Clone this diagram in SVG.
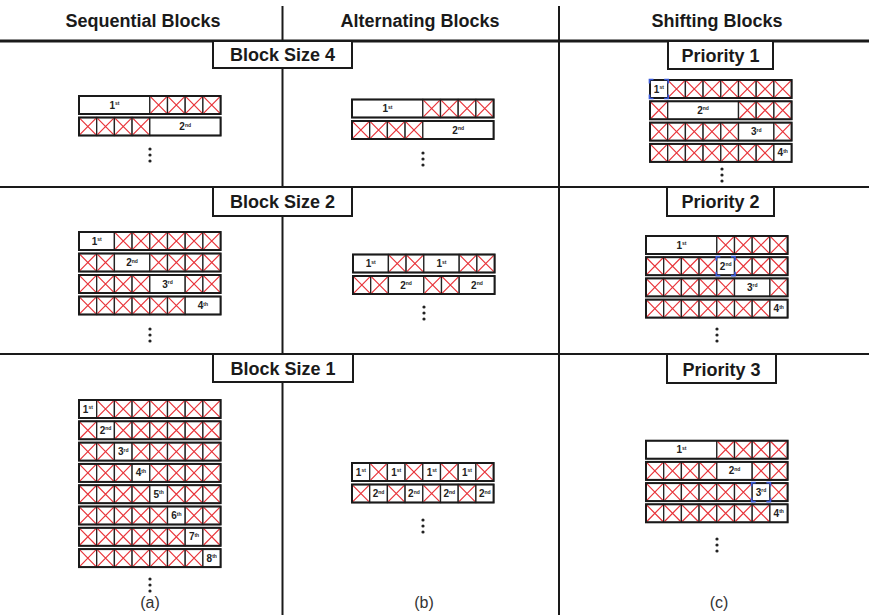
<svg xmlns="http://www.w3.org/2000/svg" xmlns:xlink="http://www.w3.org/1999/xlink" width="869" height="615" viewBox="0 0 869 615">
<style>
.c{fill:#fff;stroke:#222;stroke-width:1.3}
.r{fill:none;stroke:#e8343a;stroke-width:1.2}
.o{fill:none;stroke:#1a1a1a;stroke-width:2}
.b{fill:none;stroke:#3a5ad8;stroke-width:1.7}
.t{font-family:"Liberation Sans",Arial,sans-serif;font-weight:bold;font-size:10px;text-anchor:middle;fill:#222}
.s{font-size:5px}
.h{font-family:"Liberation Sans",Arial,sans-serif;font-weight:bold;font-size:18px;text-anchor:middle;fill:#1a1a1a}
.cap{font-family:"Liberation Sans",Arial,sans-serif;font-size:16px;text-anchor:middle;fill:#333}
.ln{stroke:#1a1a1a;stroke-width:2;fill:none}
.box{fill:#fff;stroke:#1a1a1a;stroke-width:2}
.d{fill:#222}
</style>
<defs>
<g id="x"><rect class="c" width="17.7" height="18"/><path class="r" d="M0.8,0.8L16.9,17.2M16.9,0.8L0.8,17.2"/></g>
<rect id="l1" class="c" width="17.7" height="18"/>
<rect id="l2" class="c" width="35.4" height="18"/>
<rect id="l4" class="c" width="70.8" height="18"/>
<rect id="row" class="o" width="141.6" height="18"/>
<g id="dots"><circle class="d" cx="0" cy="0" r="1.6"/><circle class="d" cx="0" cy="6" r="1.6"/><circle class="d" cx="0" cy="12" r="1.6"/></g>
<path id="br" class="b" d="M-0.5,3.5V-0.5H3.5M14.2,-0.5H18.2V3.5M18.2,14.5V18.5H14.2M3.5,18.5H-0.5V14.5"/>
</defs>
<rect width="869" height="615" fill="#fff"/>

<g id="grid">
<line class="ln" x1="0" y1="41" x2="869" y2="41" style="stroke-width:3"/>
<line class="ln" x1="0" y1="187" x2="869" y2="187"/>
<line class="ln" x1="0" y1="354" x2="869" y2="354"/>
<line class="ln" x1="282.5" y1="6" x2="282.5" y2="615"/>
<line class="ln" x1="559" y1="6" x2="559" y2="615"/>
</g>

<g id="headers">
<text class="h" x="143" y="27">Sequential Blocks</text>
<text class="h" x="420" y="27">Alternating Blocks</text>
<text class="h" x="717" y="27">Shifting Blocks</text>
</g>

<g id="title-bs4"><rect class="box" x="213" y="41" width="139" height="27"/><text class="h" x="282.5" y="61">Block Size 4</text></g>
<g id="title-bs2"><rect class="box" x="213" y="187" width="139" height="29"/><text class="h" x="282.5" y="208">Block Size 2</text></g>
<g id="title-bs1"><rect class="box" x="213" y="354" width="140" height="28"/><text class="h" x="283" y="375">Block Size 1</text></g>
<g id="title-p1"><rect class="box" x="668" y="41" width="105" height="28"/><text class="h" x="720.5" y="62">Priority 1</text></g>
<g id="title-p2"><rect class="box" x="667" y="187" width="107" height="29"/><text class="h" x="720.5" y="208">Priority 2</text></g>
<g id="title-p3"><rect class="box" x="667" y="354" width="109" height="29"/><text class="h" x="721.5" y="376">Priority 3</text></g>

<!-- Sequential block size 4 -->
<g id="seq-bs4">
<g transform="translate(79,96)"><use href="#l4" x="0"/><text class="t" x="35.4" y="12.5">1<tspan class="s" dy="-3.5">st</tspan></text><use href="#x" x="70.8"/><use href="#x" x="88.5"/><use href="#x" x="106.2"/><use href="#x" x="123.9"/><use href="#row"/></g>
<g transform="translate(79,117.5)"><use href="#x" x="0"/><use href="#x" x="17.7"/><use href="#x" x="35.4"/><use href="#x" x="53.1"/><use href="#l4" x="70.8"/><text class="t" x="106.2" y="12.5">2<tspan class="s" dy="-3.5">nd</tspan></text><use href="#row"/></g>
<use href="#dots" x="150" y="149"/>
</g>

<!-- Sequential block size 2 -->
<g id="seq-bs2">
<g transform="translate(79,232)"><use href="#l2" x="0"/><text class="t" x="17.7" y="12.5">1<tspan class="s" dy="-3.5">st</tspan></text><use href="#x" x="35.4"/><use href="#x" x="53.1"/><use href="#x" x="70.8"/><use href="#x" x="88.5"/><use href="#x" x="106.2"/><use href="#x" x="123.9"/><use href="#row"/></g>
<g transform="translate(79,253.5)"><use href="#x" x="0"/><use href="#x" x="17.7"/><use href="#l2" x="35.4"/><text class="t" x="53.1" y="12.5">2<tspan class="s" dy="-3.5">nd</tspan></text><use href="#x" x="70.8"/><use href="#x" x="88.5"/><use href="#x" x="106.2"/><use href="#x" x="123.9"/><use href="#row"/></g>
<g transform="translate(79,275)"><use href="#x" x="0"/><use href="#x" x="17.7"/><use href="#x" x="35.4"/><use href="#x" x="53.1"/><use href="#l2" x="70.8"/><text class="t" x="88.5" y="12.5">3<tspan class="s" dy="-3.5">rd</tspan></text><use href="#x" x="106.2"/><use href="#x" x="123.9"/><use href="#row"/></g>
<g transform="translate(79,296.5)"><use href="#x" x="0"/><use href="#x" x="17.7"/><use href="#x" x="35.4"/><use href="#x" x="53.1"/><use href="#x" x="70.8"/><use href="#x" x="88.5"/><use href="#l2" x="106.2"/><text class="t" x="123.9" y="12.5">4<tspan class="s" dy="-3.5">th</tspan></text><use href="#row"/></g>
<use href="#dots" x="150" y="329"/>
</g>

<!-- Sequential block size 1 -->
<g id="seq-bs1">
<g transform="translate(79,400)"><use href="#l1" x="0"/><text class="t" x="8.85" y="12.5">1<tspan class="s" dy="-3.5">st</tspan></text><use href="#x" x="17.7"/><use href="#x" x="35.4"/><use href="#x" x="53.1"/><use href="#x" x="70.8"/><use href="#x" x="88.5"/><use href="#x" x="106.2"/><use href="#x" x="123.9"/><use href="#row"/></g>
<g transform="translate(79,421.3)"><use href="#x" x="0"/><use href="#l1" x="17.7"/><text class="t" x="26.55" y="12.5">2<tspan class="s" dy="-3.5">nd</tspan></text><use href="#x" x="35.4"/><use href="#x" x="53.1"/><use href="#x" x="70.8"/><use href="#x" x="88.5"/><use href="#x" x="106.2"/><use href="#x" x="123.9"/><use href="#row"/></g>
<g transform="translate(79,442.6)"><use href="#x" x="0"/><use href="#x" x="17.7"/><use href="#l1" x="35.4"/><text class="t" x="44.25" y="12.5">3<tspan class="s" dy="-3.5">rd</tspan></text><use href="#x" x="53.1"/><use href="#x" x="70.8"/><use href="#x" x="88.5"/><use href="#x" x="106.2"/><use href="#x" x="123.9"/><use href="#row"/></g>
<g transform="translate(79,463.9)"><use href="#x" x="0"/><use href="#x" x="17.7"/><use href="#x" x="35.4"/><use href="#l1" x="53.1"/><text class="t" x="61.95" y="12.5">4<tspan class="s" dy="-3.5">th</tspan></text><use href="#x" x="70.8"/><use href="#x" x="88.5"/><use href="#x" x="106.2"/><use href="#x" x="123.9"/><use href="#row"/></g>
<g transform="translate(79,485.2)"><use href="#x" x="0"/><use href="#x" x="17.7"/><use href="#x" x="35.4"/><use href="#x" x="53.1"/><use href="#l1" x="70.8"/><text class="t" x="79.65" y="12.5">5<tspan class="s" dy="-3.5">th</tspan></text><use href="#x" x="88.5"/><use href="#x" x="106.2"/><use href="#x" x="123.9"/><use href="#row"/></g>
<g transform="translate(79,506.5)"><use href="#x" x="0"/><use href="#x" x="17.7"/><use href="#x" x="35.4"/><use href="#x" x="53.1"/><use href="#x" x="70.8"/><use href="#l1" x="88.5"/><text class="t" x="97.35" y="12.5">6<tspan class="s" dy="-3.5">th</tspan></text><use href="#x" x="106.2"/><use href="#x" x="123.9"/><use href="#row"/></g>
<g transform="translate(79,527.8)"><use href="#x" x="0"/><use href="#x" x="17.7"/><use href="#x" x="35.4"/><use href="#x" x="53.1"/><use href="#x" x="70.8"/><use href="#x" x="88.5"/><use href="#l1" x="106.2"/><text class="t" x="115.05" y="12.5">7<tspan class="s" dy="-3.5">th</tspan></text><use href="#x" x="123.9"/><use href="#row"/></g>
<g transform="translate(79,549.1)"><use href="#x" x="0"/><use href="#x" x="17.7"/><use href="#x" x="35.4"/><use href="#x" x="53.1"/><use href="#x" x="70.8"/><use href="#x" x="88.5"/><use href="#x" x="106.2"/><use href="#l1" x="123.9"/><text class="t" x="132.75" y="12.5">8<tspan class="s" dy="-3.5">th</tspan></text><use href="#row"/></g>
<use href="#dots" x="150" y="579"/>
<text class="cap" x="150" y="608">(a)</text>
</g>

<!-- Alternating block size 4 -->
<g id="alt-bs4">
<g transform="translate(352,99.5)"><use href="#l4" x="0"/><text class="t" x="35.4" y="12.5">1<tspan class="s" dy="-3.5">st</tspan></text><use href="#x" x="70.8"/><use href="#x" x="88.5"/><use href="#x" x="106.2"/><use href="#x" x="123.9"/><use href="#row"/></g>
<g transform="translate(352,121)"><use href="#x" x="0"/><use href="#x" x="17.7"/><use href="#x" x="35.4"/><use href="#x" x="53.1"/><use href="#l4" x="70.8"/><text class="t" x="106.2" y="12.5">2<tspan class="s" dy="-3.5">nd</tspan></text><use href="#row"/></g>
<use href="#dots" x="423" y="153"/>
</g>

<!-- Alternating block size 2 -->
<g id="alt-bs2">
<g transform="translate(353,254.5)"><use href="#l2" x="0"/><text class="t" x="17.7" y="12.5">1<tspan class="s" dy="-3.5">st</tspan></text><use href="#x" x="35.4"/><use href="#x" x="53.1"/><use href="#l2" x="70.8"/><text class="t" x="88.5" y="12.5">1<tspan class="s" dy="-3.5">st</tspan></text><use href="#x" x="106.2"/><use href="#x" x="123.9"/><use href="#row"/></g>
<g transform="translate(353,276)"><use href="#x" x="0"/><use href="#x" x="17.7"/><use href="#l2" x="35.4"/><text class="t" x="53.1" y="12.5">2<tspan class="s" dy="-3.5">nd</tspan></text><use href="#x" x="70.8"/><use href="#x" x="88.5"/><use href="#l2" x="106.2"/><text class="t" x="123.9" y="12.5">2<tspan class="s" dy="-3.5">nd</tspan></text><use href="#row"/></g>
<use href="#dots" x="424" y="307"/>
</g>

<!-- Alternating block size 1 -->
<g id="alt-bs1">
<g transform="translate(352,463)"><use href="#l1" x="0"/><text class="t" x="8.85" y="12.5">1<tspan class="s" dy="-3.5">st</tspan></text><use href="#x" x="17.7"/><use href="#l1" x="35.4"/><text class="t" x="44.25" y="12.5">1<tspan class="s" dy="-3.5">st</tspan></text><use href="#x" x="53.1"/><use href="#l1" x="70.8"/><text class="t" x="79.65" y="12.5">1<tspan class="s" dy="-3.5">st</tspan></text><use href="#x" x="88.5"/><use href="#l1" x="106.2"/><text class="t" x="115.05" y="12.5">1<tspan class="s" dy="-3.5">st</tspan></text><use href="#x" x="123.9"/><use href="#row"/></g>
<g transform="translate(352,484.5)"><use href="#x" x="0"/><use href="#l1" x="17.7"/><text class="t" x="26.55" y="12.5">2<tspan class="s" dy="-3.5">nd</tspan></text><use href="#x" x="35.4"/><use href="#l1" x="53.1"/><text class="t" x="61.95" y="12.5">2<tspan class="s" dy="-3.5">nd</tspan></text><use href="#x" x="70.8"/><use href="#l1" x="88.5"/><text class="t" x="97.35" y="12.5">2<tspan class="s" dy="-3.5">nd</tspan></text><use href="#x" x="106.2"/><use href="#l1" x="123.9"/><text class="t" x="132.75" y="12.5">2<tspan class="s" dy="-3.5">nd</tspan></text><use href="#row"/></g>
<use href="#dots" x="423" y="520"/>
<text class="cap" x="424" y="608">(b)</text>
</g>

<!-- Shifting priority 1 -->
<g id="shift-p1">
<g transform="translate(650,80)"><use href="#l1" x="0"/><text class="t" x="8.85" y="12.5">1<tspan class="s" dy="-3.5">st</tspan></text><use href="#x" x="17.7"/><use href="#x" x="35.4"/><use href="#x" x="53.1"/><use href="#x" x="70.8"/><use href="#x" x="88.5"/><use href="#x" x="106.2"/><use href="#x" x="123.9"/><use href="#row"/><use href="#br" x="0"/></g>
<g transform="translate(650,101.3)"><use href="#x" x="0"/><use href="#l4" x="17.7"/><text class="t" x="53.1" y="12.5">2<tspan class="s" dy="-3.5">nd</tspan></text><use href="#x" x="88.5"/><use href="#x" x="106.2"/><use href="#x" x="123.9"/><use href="#row"/></g>
<g transform="translate(650,122.6)"><use href="#x" x="0"/><use href="#x" x="17.7"/><use href="#x" x="35.4"/><use href="#x" x="53.1"/><use href="#x" x="70.8"/><use href="#l2" x="88.5"/><text class="t" x="106.2" y="12.5">3<tspan class="s" dy="-3.5">rd</tspan></text><use href="#x" x="123.9"/><use href="#row"/></g>
<g transform="translate(650,143.9)"><use href="#x" x="0"/><use href="#x" x="17.7"/><use href="#x" x="35.4"/><use href="#x" x="53.1"/><use href="#x" x="70.8"/><use href="#x" x="88.5"/><use href="#x" x="106.2"/><use href="#l1" x="123.9"/><text class="t" x="132.75" y="12.5">4<tspan class="s" dy="-3.5">th</tspan></text><use href="#row"/></g>
<use href="#dots" x="722" y="169"/>
</g>

<!-- Shifting priority 2 -->
<g id="shift-p2">
<g transform="translate(646,236)"><use href="#l4" x="0"/><text class="t" x="35.4" y="12.5">1<tspan class="s" dy="-3.5">st</tspan></text><use href="#x" x="70.8"/><use href="#x" x="88.5"/><use href="#x" x="106.2"/><use href="#x" x="123.9"/><use href="#row"/></g>
<g transform="translate(646,257.2)"><use href="#x" x="0"/><use href="#x" x="17.7"/><use href="#x" x="35.4"/><use href="#x" x="53.1"/><use href="#l1" x="70.8"/><text class="t" x="79.65" y="12.5">2<tspan class="s" dy="-3.5">nd</tspan></text><use href="#x" x="88.5"/><use href="#x" x="106.2"/><use href="#x" x="123.9"/><use href="#row"/><use href="#br" x="70.8"/></g>
<g transform="translate(646,278.4)"><use href="#x" x="0"/><use href="#x" x="17.7"/><use href="#x" x="35.4"/><use href="#x" x="53.1"/><use href="#x" x="70.8"/><use href="#l2" x="88.5"/><text class="t" x="106.2" y="12.5">3<tspan class="s" dy="-3.5">rd</tspan></text><use href="#x" x="123.9"/><use href="#row"/></g>
<g transform="translate(646,299.6)"><use href="#x" x="0"/><use href="#x" x="17.7"/><use href="#x" x="35.4"/><use href="#x" x="53.1"/><use href="#x" x="70.8"/><use href="#x" x="88.5"/><use href="#x" x="106.2"/><use href="#l1" x="123.9"/><text class="t" x="132.75" y="12.5">4<tspan class="s" dy="-3.5">th</tspan></text><use href="#row"/></g>
<use href="#dots" x="717" y="329"/>
</g>

<!-- Shifting priority 3 -->
<g id="shift-p3">
<g transform="translate(646,440.7)"><use href="#l4" x="0"/><text class="t" x="35.4" y="12.5">1<tspan class="s" dy="-3.5">st</tspan></text><use href="#x" x="70.8"/><use href="#x" x="88.5"/><use href="#x" x="106.2"/><use href="#x" x="123.9"/><use href="#row"/></g>
<g transform="translate(646,461.9)"><use href="#x" x="0"/><use href="#x" x="17.7"/><use href="#x" x="35.4"/><use href="#x" x="53.1"/><use href="#l2" x="70.8"/><text class="t" x="88.5" y="12.5">2<tspan class="s" dy="-3.5">nd</tspan></text><use href="#x" x="106.2"/><use href="#x" x="123.9"/><use href="#row"/></g>
<g transform="translate(646,483.1)"><use href="#x" x="0"/><use href="#x" x="17.7"/><use href="#x" x="35.4"/><use href="#x" x="53.1"/><use href="#x" x="70.8"/><use href="#x" x="88.5"/><use href="#l1" x="106.2"/><text class="t" x="115.05" y="12.5">3<tspan class="s" dy="-3.5">rd</tspan></text><use href="#x" x="123.9"/><use href="#row"/><use href="#br" x="106.2"/></g>
<g transform="translate(646,504.3)"><use href="#x" x="0"/><use href="#x" x="17.7"/><use href="#x" x="35.4"/><use href="#x" x="53.1"/><use href="#x" x="70.8"/><use href="#x" x="88.5"/><use href="#x" x="106.2"/><use href="#l1" x="123.9"/><text class="t" x="132.75" y="12.5">4<tspan class="s" dy="-3.5">th</tspan></text><use href="#row"/></g>
<use href="#dots" x="717" y="539"/>
<text class="cap" x="719" y="608">(c)</text>
</g>
</svg>
